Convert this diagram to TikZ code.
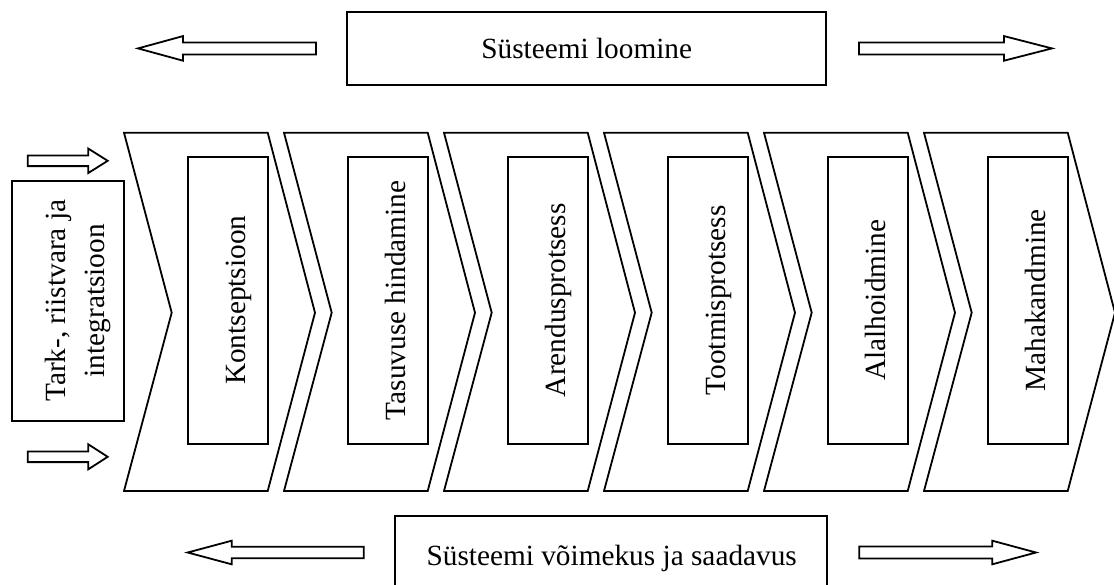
\documentclass[tikz,border=0pt]{standalone}
\usepackage{fontspec}
\setmainfont{Liberation Serif}
\begin{document}
\begin{tikzpicture}[x=1pt, y=-1pt,
  line width=1.8pt, line join=miter,
  outline/.style={draw=black, fill=white},
  frame/.style={draw=black, fill=white, rectangle, inner sep=0pt},
  caption/.style={font=\fontsize{29.3}{39}\selectfont, inner sep=0pt},
  vcaption/.style={caption, rotate=90, anchor=base}]
% block arrow: tail x, head base x, tip x, centre y, half shaft, half head
\newcommand\blockarrow[6]{%
  \draw[outline] (#1,#4-#5) -- (#2,#4-#5) -- (#2,#4-#6) -- (#3,#4)
    -- (#2,#4+#6) -- (#2,#4+#5) -- (#1,#4+#5) -- cycle;}
\useasboundingbox (0,0) rectangle (1114,584);
\clip (0,0) rectangle (1114,584);

% upper band
\node[frame, minimum width=479pt, minimum height=72.7pt] (create)
  at (586.7,48.7) {};
\node[caption, anchor=base] (createtxt) at (586.7,58) {Süsteemi loomine};
\blockarrow{316}{183}{138}{48.4}{6}{12.3}
\blockarrow{859}{1004}{1052}{48.4}{6}{12.3}

% lower band (runs past the bottom edge)
\node[frame, minimum width=431.7pt, minimum height=90pt] (ability)
  at (611,561) {};
\node[caption, anchor=base] (abilitytxt) at (611.7,565) {Süsteemi võimekus ja saadavus};
\blockarrow{363.7}{231.7}{187.7}{552.5}{5.8}{11.8}
\blockarrow{859.3}{992.3}{1036}{552.5}{6}{11.8}

% input box with its two arrows
\node[frame, minimum width=112.3pt, minimum height=240pt] (input)
  at (67.8,300.7) {};
\node[caption, rotate=90, align=center] (inputtxt) at (78,300.7)
  {Tark-, riistvara ja\\integratsioon};
\blockarrow{27.7}{88.3}{107.7}{160.8}{5.3}{12.2}
\blockarrow{27.7}{88.3}{107.7}{456.8}{5.3}{12.5}

% life-cycle chevrons with their stage boxes
\foreach \i/\name/\stage in {
    0/s1/Kontseptsioon,
    1/s2/Tasuvuse hindamine,
    2/s3/Arendusprotsess,
    3/s4/Tootmisprotsess,
    4/s5/Alalhoidmine,
    5/s6/Mahakandmine} {
  \pgfmathsetmacro\L{124+160*\i}
  \draw[outline] (\L,132.7) -- (\L+143.7,132.7) -- (\L+191,312.7)
    -- (\L+143.7,491) -- (\L,491) -- (\L+47.7,312.7) -- cycle;
  \node[frame, minimum width=80pt, minimum height=287.3pt] (\name)
    at (\L+104,300.3) {};
  \node[vcaption] (\name txt) at (\L+121,300.3) {\stage};
}
\end{tikzpicture}
\end{document}
